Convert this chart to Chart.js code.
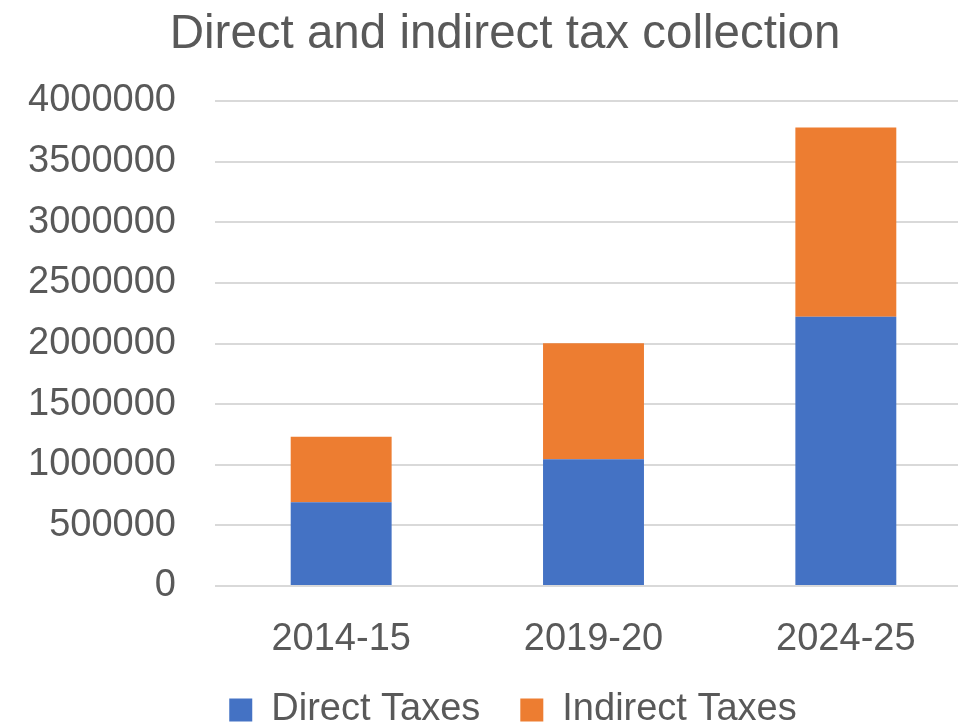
<!DOCTYPE html>
<html>
<head>
<meta charset="utf-8">
<script src="https://cdn.jsdelivr.net/npm/chart.js@4.4.1/dist/chart.umd.min.js"></script>
<style>
  html, body { margin: 0; padding: 0; overflow: hidden; background: #fff; }
  canvas { display: block; }
</style>
</head>
<body>
<canvas id="grafico" width="1000" height="739"></canvas>
<script>
const years = ["2014-15", "2019-20", "2024-25"];
const directTaxes = [690000, 1045000, 2220000];
const indirectTaxes = [540000, 957000, 1562000];
const yTicks = [0, 500000, 1000000, 1500000, 2000000, 2500000, 3000000, 3500000, 4000000];

const gris = '#595959';
const fuente = 'Liberation Sans, Arial, sans-serif';

// título y leyenda van un poco a la derecha del centro del canvas
const moverBloques = {
    id: 'moverBloques',
    afterLayout(chart) {
        const t = chart.titleBlock;
        if (t) { t.left += 6; t.right += 6; }
        const l = chart.legend;
        if (l) { l.left += 14; l.right += 14; }
    }
};

const ctx = document.getElementById('grafico').getContext('2d');
new Chart(ctx, {
    type: 'bar',
    data: {
        labels: years,
        datasets: [
            { label: 'Direct Taxes', data: directTaxes, backgroundColor: '#4472C4' },
            { label: 'Indirect Taxes', data: indirectTaxes, backgroundColor: '#ED7D31' }
        ]
    },
    options: {
        responsive: false,
        animation: false,
        layout: { padding: { left: 26, right: 28, top: 0, bottom: 0 } },
        datasets: { bar: { categoryPercentage: 1, barPercentage: 0.4 } },
        scales: {
            x: {
                stacked: true,
                grid: { display: false, drawTicks: false },
                border: { display: false },
                ticks: { color: gris, font: { family: fuente, size: 38 }, padding: 31 },
                afterFit: (scale) => { scale.height = 65; }
            },
            y: {
                stacked: true,
                min: 0,
                max: 4000000,
                afterBuildTicks: (scale) => { scale.ticks = yTicks.map(v => ({ value: v })); },
                afterFit: (scale) => { scale.width = 189; },
                grid: { color: '#d9d9d9', lineWidth: 2, drawTicks: false },
                border: { display: false },
                ticks: { color: gris, font: { family: fuente, size: 38 }, padding: 39,
                         callback: (v) => String(v) }
            }
        },
        plugins: {
            title: {
                display: true,
                text: 'Direct and indirect tax collection',
                color: gris,
                font: { family: fuente, size: 47.5, weight: 'normal' },
                padding: { top: 6, bottom: 38 }
            },
            legend: {
                position: 'bottom',
                labels: { color: gris, font: { family: fuente, size: 38 }, boxWidth: 23, boxHeight: 23, padding: 40 }
            },
            tooltip: { enabled: false }
        }
    },
    plugins: [moverBloques]
});
</script>
</body>
</html>
